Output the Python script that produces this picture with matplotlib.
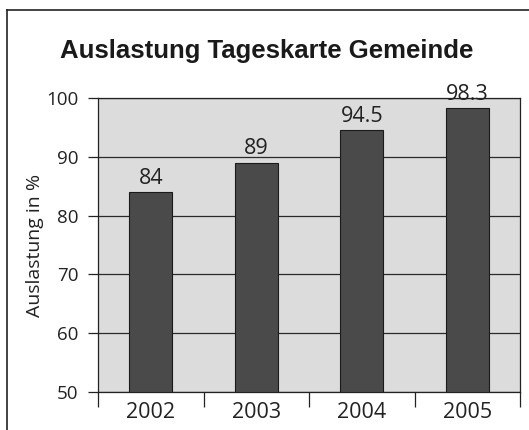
import matplotlib
matplotlib.use('Agg')

import numpy as np
import matplotlib.pyplot as plt
from matplotlib.lines import Line2D

# data
years = ["2002", "2003", "2004", "2005"]
auslastung = [84, 89, 94.5, 98.3]
value_labels = ["84", "89", "94.5", "98.3"]

plt.rcParams['font.family'] = ['Open Sans', 'DejaVu Sans']

W, H = 529, 430
fig = plt.figure(figsize=(W / 100, H / 100), dpi=100)

# outer frame (left + top edge only visible)
fig.add_artist(Line2D([7 / W, 7 / W], [0, 1 - 10 / H], color='#222222', lw=1.2))
fig.add_artist(Line2D([7 / W, 1], [1 - 10 / H, 1 - 10 / H], color='#222222', lw=1.2))

ax = fig.add_axes([98 / W, (H - 392) / H, 422 / W, 294 / H])
ax.set_facecolor('#dcdcdd')

x = np.arange(len(years))
ax.bar(x, np.array(auslastung) - 50, bottom=50, width=0.41,
       color='#4a4a4b', edgecolor='#1a1a1a', linewidth=0.8, zorder=3)

for xi, v, lab in zip(x, auslastung, value_labels):
    ax.text(xi, v + 1.4, lab, ha='center', va='baseline', fontsize=15.5,
            color='#222222', zorder=4)

ax.set_xlim(-0.5, len(years) - 0.5)
ax.set_ylim(50, 100)
ax.set_yticks(range(50, 101, 10))
ax.yaxis.grid(True, color='#2a2a2a', linewidth=0.9, zorder=1)
ax.set_axisbelow(True)

ax.set_xticks(x)
ax.set_xticklabels(years)
ax.set_xticks(np.arange(-0.5, len(years)), minor=True)
ax.tick_params(axis='x', which='major', length=0, pad=7, labelsize=15.5, labelcolor='#222222')
ax.tick_params(axis='x', which='minor', length=11, width=0.9, color='#222222', direction='out')
ax.tick_params(axis='y', length=7, width=0.9, color='#222222', pad=7,
               labelsize=13.5, labelcolor='#222222')

for s in ax.spines.values():
    s.set_color('#222222')
    s.set_linewidth(0.9)

ax.set_ylabel('Auslastung in %', fontsize=14, color='#222222', labelpad=2)

fig.text(267 / W, 1 - 51 / H, 'Auslastung Tageskarte Gemeinde', ha='center', va='center',
         fontsize=18.5, fontweight='bold', color='#1a1a1a', family='Liberation Sans')

fig.savefig('out.png', dpi=100)
